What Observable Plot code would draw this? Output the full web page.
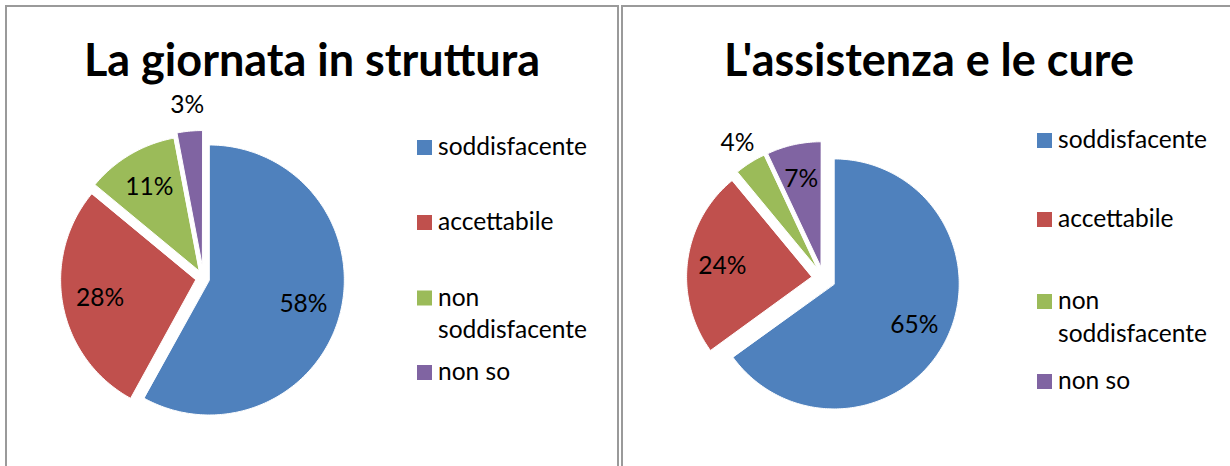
<!DOCTYPE html>
<html><head><meta charset="utf-8">
<script src="https://cdn.jsdelivr.net/npm/d3@7"></script>
<script src="https://cdn.jsdelivr.net/npm/@observablehq/plot@0.6"></script>
<style>
html,body{margin:0;padding:0;background:#fff;width:1230px;height:466px;overflow:hidden;}
.panel{position:absolute;top:0;height:466px;}
.frame{position:absolute;top:5px;height:480px;border:2px solid #9a9a9a;border-bottom:none;box-sizing:border-box;}
svg{position:absolute;left:0;top:0;}
</style></head><body>
<script>
// ---- data ----
const categories = ["soddisfacente", "accettabile", "non soddisfacente", "non so"];
const colors = ["#4F81BD", "#C0504D", "#9BBB59", "#8064A2"];
const titles = ["La giornata in struttura", "L'assistenza e le cure"];
const valuesGiornata = [58, 28, 11, 3];
const valuesAssistenza = [65, 24, 4, 7];

// ---- layout ----
const FONT = "Lato";
const H = 466;
const panels = [
  {values: valuesGiornata, title: titles[0], left: 0, width: 619, frameLeft: 5, frameWidth: 614,
   cx: 203, cy: 278, r: 135, explode: [6, 8, 9, 13], titleX: 312, titleW: 455,
   legendX: 417, legendBase: [155, 230, 305.5, 380]},
  {values: valuesAssistenza, title: titles[1], left: 619, width: 611, frameLeft: 2, frameWidth: 640,
   cx: 204, cy: 278, r: 125, explode: [12, 12, 12, 12], titleX: 310, titleW: 411,
   legendX: 418, legendBase: [148, 227, 309, 389]}
];

const ctx = document.createElement("canvas").getContext("2d");
function measure(text, weight, size) { ctx.font = `${weight} ${size}px ${FONT}`; return ctx.measureText(text).width; }
const titleSize = d3.mean(panels, p => 100 * p.titleW / measure(p.title, "bold", 100));
const smallSize = 100 * 149 / measure("soddisfacente", "normal", 100);

for (const p of panels) {
  const div = document.createElement("div");
  div.className = "panel";
  div.style.left = p.left + "px";
  div.style.width = p.width + "px";
  document.body.appendChild(div);
  const frame = document.createElement("div");
  frame.className = "frame";
  frame.style.left = p.frameLeft + "px";
  frame.style.width = p.frameWidth + "px";
  div.appendChild(frame);

  const total = d3.sum(p.values);
  const pts = [], labels = [];
  let acc = 0;
  p.values.forEach((v, i) => {
    const a0 = acc / total * 2 * Math.PI, a1 = (acc + v) / total * 2 * Math.PI;
    acc += v;
    const am = (a0 + a1) / 2;
    const e = p.explode[i] / p.r;
    const ox = e * Math.sin(am), oy = e * Math.cos(am);
    const cat = categories[i];
    pts.push({cat, x: ox, y: oy});
    const n = Math.max(2, Math.ceil((a1 - a0) / (Math.PI / 180)));
    for (let k = 0; k <= n; k++) {
      const a = a0 + (a1 - a0) * k / n;
      pts.push({cat, x: ox + Math.sin(a), y: oy + Math.cos(a)});
    }
    const inside = v / total >= 0.05;
    const lr = inside ? 0.72 : 1.19;
    labels.push({x: ox + lr * Math.sin(am), y: oy + lr * Math.cos(am), text: v + "%"});
  });

  const chart = Plot.plot({
    width: p.width, height: H, margin: 0,
    x: {domain: [-p.cx / p.r, (p.width - p.cx) / p.r], range: [0, p.width], axis: null},
    y: {domain: [-(H - p.cy) / p.r, p.cy / p.r], range: [H, 0], axis: null},
    color: {domain: categories, range: colors},
    style: {background: "transparent", overflow: "visible", fontFamily: FONT},
    marks: [
      Plot.line(pts, {x: "x", y: "y", z: "cat", fill: "cat", stroke: "white", strokeWidth: 1, curve: "linear-closed"}),
      Plot.text(labels, {x: "x", y: "y", text: "text", fontSize: smallSize, fill: "black", fontFamily: FONT})
    ]
  });
  div.appendChild(chart);

  // title + legend overlay
  const svg = d3.select(div).append("svg").attr("width", p.width).attr("height", H);
  svg.append("text").attr("x", p.titleX).attr("y", 76).attr("text-anchor", "middle")
    .attr("font-family", FONT).attr("font-weight", "bold").attr("font-size", titleSize)
    .attr("fill", "#000").text(p.title);
  const maxW = 165;
  categories.forEach((c, i) => {
    const base = p.legendBase[i];
    svg.append("rect").attr("x", p.legendX).attr("y", base - 15).attr("width", 15).attr("height", 15).attr("fill", colors[i]);
    const words = c.split(" ");
    const lines = [];
    let cur = "";
    for (const w of words) {
      const t = cur ? cur + " " + w : w;
      if (cur && measure(t, "normal", smallSize) > maxW) { lines.push(cur); cur = w; } else cur = t;
    }
    lines.push(cur);
    const t = svg.append("text").attr("font-family", FONT).attr("font-size", smallSize).attr("fill", "#000");
    lines.forEach((l, j) => t.append("tspan").attr("x", p.legendX + 21).attr("y", base + j * 32.5).text(l));
  });
}
</script>
</body></html>
